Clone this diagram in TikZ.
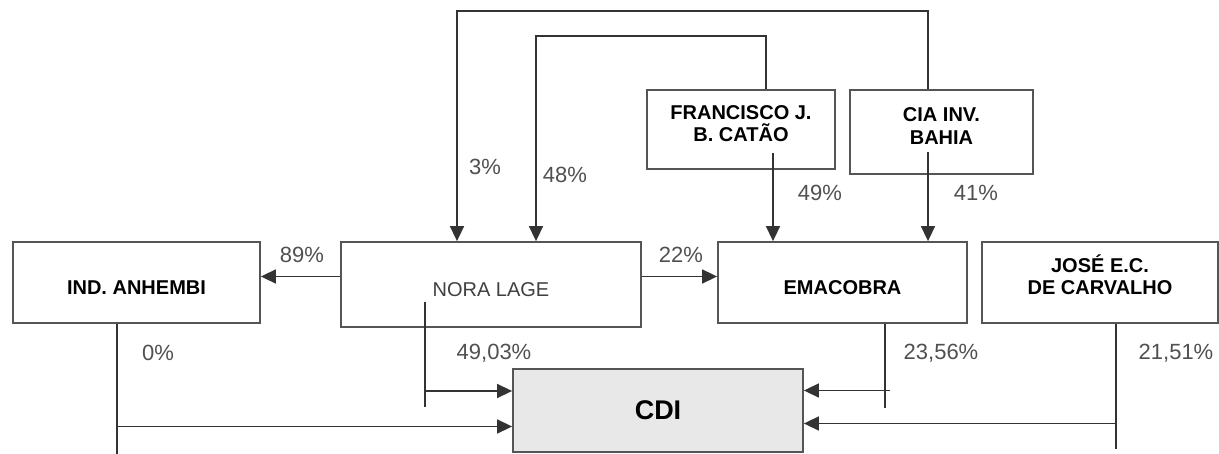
\documentclass[tikz,border=0pt]{standalone}
\usepackage{fontspec}
\setmainfont{Liberation Sans}
\usetikzlibrary{arrows.meta}
\definecolor{linegray}{HTML}{333333}
\definecolor{boxgray}{HTML}{555555}
\definecolor{pctgray}{HTML}{505050}
\definecolor{cdifill}{HTML}{E8E8E8}
\begin{document}
\begin{tikzpicture}[x=1pt, y=-1pt, line width=1.6pt, draw=linegray,
	main/.style = {draw=boxgray, line width=1.8pt, align=center, text height=25pt, text depth=0pt,
		font=\fontsize{20pt}{22.5pt}\selectfont\bfseries},
	pct/.style = {text=pctgray, font=\fontsize{22pt}{24pt}\selectfont},
	arr/.style = {-{Triangle[length=15pt,width=14pt]}}]
	\useasboundingbox (0,0) rectangle (1219,454);
	
	\node[main, minimum width=247pt, minimum height=81pt] (ind) at (136.5,282.5) {IND. ANHEMBI};
	\node[main, minimum width=300pt, minimum height=85pt, font=\fontsize{20pt}{22.5pt}\selectfont, text=black!75] (nora) at (491,284.5) {NORA LAGE};
	\node[main, minimum width=249pt, minimum height=81pt] (ema) at (842.5,282.5) {EMACOBRA};
	\node[main, minimum width=236pt, minimum height=81pt] (jose) at (1100,282.5) {JOSÉ E.C.\\DE CARVALHO};
	
	\node[main, minimum width=188pt, minimum height=79pt] (fran) at (741,129.5) {FRANCISCO J.\\B. CATÃO};
	\node[main, minimum width=183pt, minimum height=84pt] (cia) at (941.5,132) {CIA INV.\\BAHIA};
	
	\node[draw=boxgray, line width=1.8pt, fill=cdifill, minimum width=290pt, minimum height=83pt,
		font=\fontsize{27pt}{30pt}\selectfont\bfseries] (cdi) at (658,410.5) {CDI};
	
	\node[pct] (p89) at (302,255) {89\%};
	\node[pct] (p22) at (681,255) {22\%};
	\node[pct] (p3) at (485,167) {3\%};
	\node[pct] (p48) at (565,175) {48\%};
	\node[pct] (p49) at (820,193) {49\%};
	\node[pct] (p41) at (976,193) {41\%};
	\node[pct] (p0) at (158,353) {0\%};
	\node[pct] (p4903) at (494,353) {49,03\%};
	\node[pct] (p2356) at (941,353) {23,56\%};
	\node[pct] (p2151) at (1176,353) {21,51\%};
	
	\coordinate (f1) at ([xshift=32pt,yshift=-23.5pt]fran.center);
	\coordinate (c1) at ([xshift=-13.5pt,yshift=-20pt]cia.center);
	\coordinate (n1) at ([xshift=-66pt,yshift=-17.5pt]nora.center);
	\coordinate (i1) at ([xshift=-19.5pt]ind.south);
	\coordinate (e1) at ([xshift=42.5pt]ema.south);
	\coordinate (j1) at ([xshift=16pt]jose.south);
	\coordinate (cL1) at ([yshift=19.5pt]cdi.west);
	\coordinate (cL2) at ([yshift=-16pt]cdi.west);
	\coordinate (cR1) at ([yshift=20pt]cdi.east);
	\coordinate (cR2) at ([yshift=-13pt]cdi.east);
	
	\draw[arr] ([yshift=8pt]nora.west) -- ([yshift=8pt]nora.west -| ind.east);
	\draw[arr] ([yshift=8pt]nora.east) -- ([yshift=8pt]nora.east -| ema.west);
	\draw[arr] ([xshift=-13.5pt]cia.north) -- ++(0,-78) -| ([xshift=-34pt]nora.north);
	\draw[arr] ([xshift=25pt]fran.north) -- ++(0,-53) -| ([xshift=45pt]nora.north);
	\draw[arr] (f1) -- (f1 |- ema.north);
	\draw[arr] (c1) -- (c1 |- ema.north);
	
	\draw (n1) -- ++(0,105);
	\draw[arr] (n1 |- cL1) -- (cL1);
	\draw (i1) -- ++(0,131);
	\draw[arr] (i1 |- cL2) -- (cL2);
	\draw (e1) -- ++(0,84);
	\draw[arr] (e1 |- cR1) ++(5,0) -- (cR1);
	\draw (j1) -- ++(0,125);
	\draw[arr] (j1 |- cR2) -- (cR2);
	
\end{tikzpicture}
\end{document}
